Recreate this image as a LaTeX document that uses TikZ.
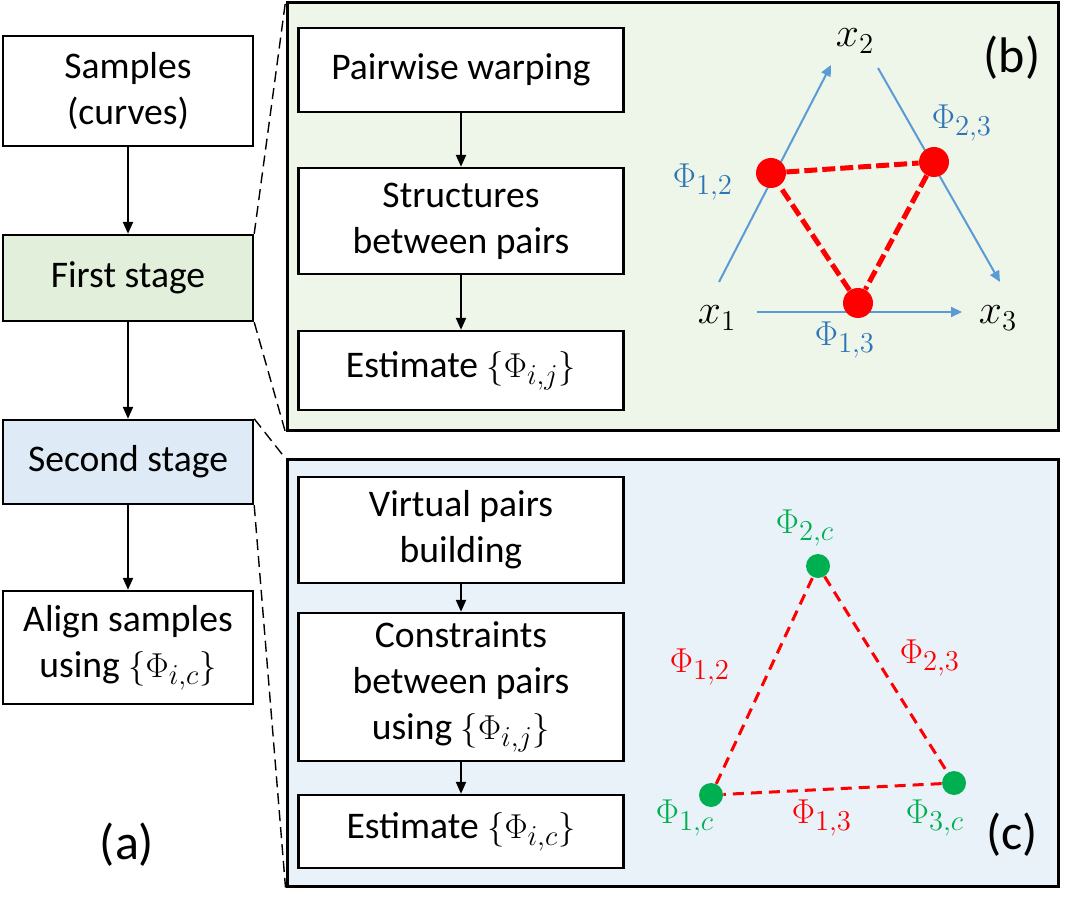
\RequirePackage{fix-cm}
\documentclass[tikz,border=0pt]{standalone}
\usepackage{amsmath}
\usepackage{amssymb}
\usepackage{fontspec}
\setmainfont{Carlito}
\DeclareMathSizes{16}{17.28}{14.4}{10}
\DeclareMathSizes{18.8}{17.28}{14.4}{10}
\DeclareMathSizes{20}{20.74}{14.4}{10}
\usepackage{tikz}
\usetikzlibrary{positioning,arrows.meta, shapes.geometric}
\definecolor{stgA}{HTML}{E2EFDA}
\definecolor{panA}{HTML}{EEF5E9}
\definecolor{stgB}{HTML}{DEEBF7}
\definecolor{panB}{HTML}{E9F1F9}
\definecolor{arrB}{HTML}{5B9BD5}
\definecolor{txtB}{HTML}{2E75B6}
\definecolor{dotG}{HTML}{00B050}
\begin{document}
\begin{tikzpicture}[x=0.5pt, y=-0.5pt,
    every node/.style={font=\fontsize{18.8}{23}\selectfont},
    box/.style={draw, line width=1.2pt, fill=white, align=center, inner sep=0pt, minimum width=125pt},
    inbox/.style={box, minimum width=162.5pt},
    panel/.style={draw, line width=1.5pt, inner sep=0pt, minimum width=385.5pt},
    flow/.style={-{Triangle[length=6pt,width=5pt]}, line width=1.1pt},
    zoomline/.style={line width=0.7pt, dash pattern=on 5.5pt off 3pt},
    axis/.style={-{Triangle[length=5.5pt,width=5pt]}, arrB, line width=1pt},
    tag/.style={font=\fontsize{25}{30}\selectfont},
    var/.style={font=\fontsize{20}{24}\selectfont},
    phi/.style={font=\fontsize{16}{20}\selectfont}] 
            \useasboundingbox (0,0) rectangle (1081,908);
            \node[box, minimum height=55pt] (smp) at (128,91) {Samples\\(curves)};
            \node[box, fill=stgA, minimum height=43pt, below=43.3pt of smp] (fst) {First stage};
            \node[box, fill=stgB, minimum height=42pt, below=48.3pt of fst] (snd) {Second stage};
            \node[box, minimum height=56.5pt, below=42.3pt of snd] (aln) {Align samples\\using $\{\Phi_{i,c}\}$};
            \node[tag] (la) at (127,845) {(a)};
            \draw[flow] (smp) -- (fst);
            \draw[flow] (fst) -- (snd);
            \draw[flow] (snd) -- (aln);

            \node[panel, fill=panA, minimum height=214pt] (pb) at (672.5,217) {};
            \node[panel, fill=panB, minimum height=213pt] (pc) at (672.5,673) {};
            \draw[zoomline] (fst.north east) -- (pb.north west);
            \draw[zoomline] (fst.south east) -- (pb.south west);
            \draw[zoomline] (snd.north east) -- (pc.north west);
            \draw[zoomline] (snd.south east) -- (pc.south west);

            \node[inbox, minimum height=42pt] (pw) at (461,70) {Pairwise warping};
            \node[inbox, minimum height=53pt, below=26.8pt of pw] (sbp) {Structures\\between pairs};
            \node[inbox, minimum height=39.5pt, below=27.3pt of sbp] (eij) {Estimate $\{\Phi_{i,j}\}$};
            \draw[flow] (pw) -- (sbp);
            \draw[flow] (sbp) -- (eij);
            \node[tag] (lb) at (1012,58) {(b)};

            \node[var] (x1) at (717,318) {$x_1$};
            \node[var] (x2) at (855,41) {$x_2$};
            \node[var] (x3) at (998,318) {$x_3$};
            \coordinate (a1) at (719,282);
            \coordinate (b1) at (831,65);
            \coordinate (a2) at (878,68);
            \coordinate (b2) at (1000,282);
            \coordinate (a3) at (757,312);
            \coordinate (b3) at (962,312);
            \draw[axis] (a1) -- (b1);
            \draw[axis] (a2) -- (b2);
            \draw[axis] (a3) -- (b3);
            \node[circle, fill=red, minimum size=15pt, inner sep=0pt] (p12) at (771,173) {};
            \node[circle, fill=red, minimum size=15pt, inner sep=0pt] (p23) at (934,162) {};
            \node[circle, fill=red, minimum size=15pt, inner sep=0pt] (p13) at (858,303) {};
            \draw[red, line width=2.5pt, dash pattern=on 6.5pt off 2.5pt] (p12) -- (p23) -- (p13) -- (p12);
            \node[phi, txtB] (f12) at (703,182) {$\Phi_{1,2}$};
            \node[phi, txtB] (f23) at (962,123) {$\Phi_{2,3}$};
            \node[phi, txtB] (f13) at (845,340) {$\Phi_{1,3}$};

            \node[inbox, minimum height=53pt] (vpb) at (461,530) {Virtual pairs\\building};
            \node[inbox, minimum height=74pt, below=13.8pt of vpb] (cbp) {Constraints\\between pairs\\using $\{\Phi_{i,j}\}$};
            \node[inbox, minimum height=36.5pt, below=15.8pt of cbp] (eic) {Estimate $\{\Phi_{i,c}\}$};
            \draw[flow] (vpb) -- (cbp);
            \draw[flow] (cbp) -- (eic);
            \node[tag] (lc) at (1012,835) {(c)};

            \node[circle, fill=dotG, minimum size=12pt, inner sep=0pt] (g1) at (711,795) {};
            \node[circle, fill=dotG, minimum size=12pt, inner sep=0pt] (g2) at (818,566) {};
            \node[circle, fill=dotG, minimum size=12pt, inner sep=0pt] (g3) at (954,783) {};
            \draw[red, line width=1.5pt, dash pattern=on 5.5pt off 3.5pt] (g1) -- (g2) -- (g3) -- (g1);
            \node[phi, dotG] (c1) at (685,818) {$\Phi_{1,c}$};
            \node[phi, dotG] (c2) at (805,528) {$\Phi_{2,c}$};
            \node[phi, dotG] (c3) at (935,818) {$\Phi_{3,c}$};
            \node[phi, red] (r12) at (700,667) {$\Phi_{1,2}$};
            \node[phi, red] (r23) at (930,658) {$\Phi_{2,3}$};
            \node[phi, red] (r13) at (822,818) {$\Phi_{1,3}$};
        \end{tikzpicture}
\end{document}
